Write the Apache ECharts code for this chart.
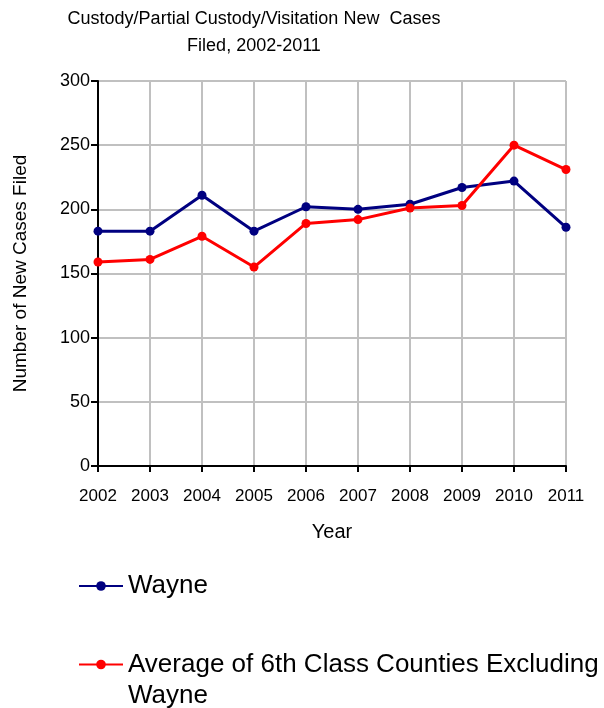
<!DOCTYPE html>
<html>
<head>
<meta charset="utf-8">
<script src="https://cdn.jsdelivr.net/npm/echarts@6/dist/echarts.min.js"></script>
<style>html,body{margin:0;padding:0;background:#fff}#c{width:604px;height:708px}</style>
</head>
<body>
<div id="c"></div>
<script>
const years = ['2002','2003','2004','2005','2006','2007','2008','2009','2010','2011'];
const wayne = [183, 183, 211, 183, 202, 200, 204, 217, 222, 186];
const avg6th = [159, 161, 179, 155, 189, 192, 201, 203, 250, 231];
const yTicks = {min: 0, max: 300, interval: 50};
const seriesNames = ['Wayne', 'Average of 6th Class Counties Excluding Wayne'];

const chart = echarts.init(document.getElementById('c'));
const font = 'Liberation Sans, Arial, sans-serif';
chart.setOption({
  animation: false,
  backgroundColor: '#fff',
  title: {
    text: 'Custody/Partial Custody/Visitation New  Cases\nFiled, 2002-2011',
    left: 249, top: 1, textAlign: 'center',
    textStyle: {fontFamily: font, fontSize: 18, fontWeight: 'normal', color: '#000', lineHeight: 27}
  },
  grid: {left: 98, right: 38, top: 81, bottom: 242, outerBoundsMode: 'none', containLabel: false},
  xAxis: {
    type: 'category', data: years, boundaryGap: false,
    name: 'Year', nameLocation: 'middle', nameGap: 56,
    nameTextStyle: {fontFamily: font, fontSize: 20, color: '#000'},
    axisLine: {lineStyle: {color: '#000', width: 2}},
    axisTick: {show: true, length: 6, lineStyle: {color: '#000', width: 2}, alignWithLabel: true},
    axisLabel: {fontFamily: font, fontSize: 17, color: '#000', margin: 22, interval: 0},
    splitLine: {show: true, lineStyle: {color: '#c0c0c0', width: 2}}
  },
  yAxis: {
    type: 'value', min: yTicks.min, max: yTicks.max, interval: yTicks.interval,
    name: 'Number of New Cases Filed', nameLocation: 'middle', nameGap: 68,
    nameTextStyle: {fontFamily: font, fontSize: 19, color: '#000'},
    axisLine: {show: true, lineStyle: {color: '#000', width: 2}},
    axisTick: {show: true, length: 7, lineStyle: {color: '#000', width: 2}},
    axisLabel: {fontFamily: font, fontSize: 18, color: '#000', margin: 8},
    splitLine: {show: true, lineStyle: {color: '#c0c0c0', width: 2}}
  },
  legend: [{
    data: [seriesNames[0]], orient: 'vertical', left: 78, top: 571, padding: 0,
    itemWidth: 44, itemHeight: 12, itemGap: 6,
    textStyle: {fontFamily: font, fontSize: 26, color: '#000', lineHeight: 30}
  }, {
    data: [seriesNames[1]], orient: 'vertical', left: 78, top: 618, padding: 0,
    itemWidth: 44, itemHeight: 12, itemGap: 6,
    formatter: function (name) { return ' \n' + name.replace(' Wayne', '\nWayne'); },
    textStyle: {fontFamily: font, fontSize: 26, color: '#000', lineHeight: 31}
  }],
  series: [{
    name: seriesNames[0], type: 'line', data: wayne,
    color: '#000080', lineStyle: {width: 3}, symbol: 'circle', symbolSize: 9
  }, {
    name: seriesNames[1], type: 'line', data: avg6th,
    color: '#ff0000', lineStyle: {width: 3}, symbol: 'circle', symbolSize: 9
  }]
});
</script>
</body>
</html>
